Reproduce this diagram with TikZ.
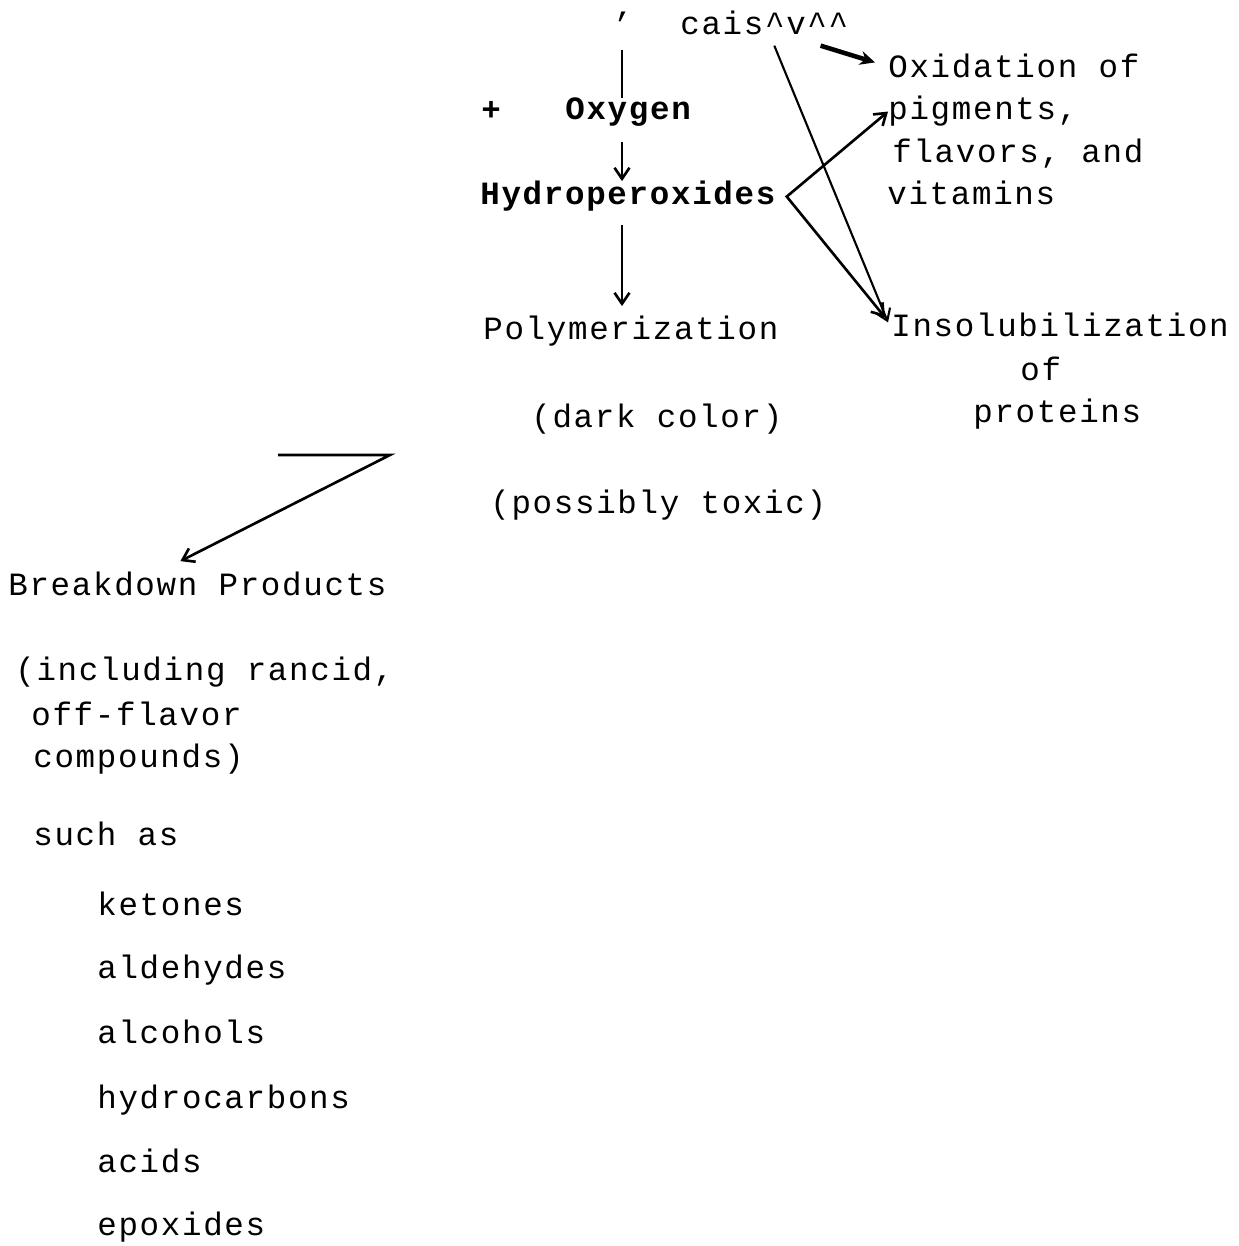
\documentclass[tikz,border=0pt]{standalone}
\usepackage{fontspec}
\usepackage{tikz}
\usetikzlibrary{arrows.meta}
\newfontfamily\typewriter[LetterSpace=5.2]{Liberation Mono}
\tikzset
{
    txtnode/.style   = {anchor=base west, inner sep=0pt, font=\typewriter\fontsize{18.5pt}{22pt}\selectfont},
    boldnode/.style  = {txtnode, font=\typewriter\bfseries\fontsize{18.5pt}{22pt}\selectfont},
    flow/.style      = {-{Straight Barb[length=0.22cm, width=0.3cm]}, line width=1.5pt},
    heavyflow/.style = {-{Stealth[length=0.3cm, width=0.28cm]}, line width=2.6pt}
}

\begin{document}
\begin{tikzpicture}[x=0.02cm, y=-0.02cm]
    \useasboundingbox (0,0) rectangle (1239,1246);
    \node [txtnode] (tick) at (612,36) {’};
    \node [txtnode] (cais) at (680,35) {cais\textasciicircum v\textasciicircum\textasciicircum};
    \node [boldnode] (plus) at (481,121) {+};
    \node [boldnode] (oxygen) at (565,120) {Oxygen};
    \node [boldnode] (hydro) at (480,205) {Hydroperoxides};
    \node [txtnode] (poly) at (483,340) {Polymerization};
    \node [txtnode] (dark) at (531,427) {(dark color)};
    \node [txtnode] (toxic) at (490,513) {(possibly toxic)};
    \node [txtnode] (oxid) at (888,78) {Oxidation of};
    \node [txtnode] (pigm) at (888,120) {pigments,};
    \node [txtnode] (flav) at (892,163) {flavors, and};
    \node [txtnode] (vita) at (887,205) {vitamins};
    \node [txtnode] (insol) at (891,337) {Insolubilization};
    \node [txtnode] (insolof) at (1020,380) {of};
    \node [txtnode] (prot) at (973,422) {proteins};
    \node [txtnode] (brk) at (8,595) {Breakdown Products};
    \node [txtnode] (incl) at (15,680) {(including rancid,};
    \node [txtnode] (offfl) at (31,725) {off-flavor};
    \node [txtnode] (comp) at (33,767) {compounds)};
    \node [txtnode] (such) at (33,845) {such as};
    \node [txtnode] (keto) at (97,915) {ketones};
    \node [txtnode] (alde) at (97,978) {aldehydes};
    \node [txtnode] (alco) at (97,1043) {alcohols};
    \node [txtnode] (hydc) at (97,1108) {hydrocarbons};
    \node [txtnode] (acid) at (97,1172) {acids};
    \node [txtnode] (epox) at (97,1235) {epoxides};

    \coordinate (axis) at (622,50);
    \coordinate (zstart) at (278,455);
    \coordinate (zbend) at (390,455);

    \draw [line width=1.5pt] (axis) -- (axis |- oxygen.north);
    \draw [flow, shorten <=0.3cm] (axis |- oxygen.south) -- (axis |- hydro.north);
    \draw [flow, shorten <=0.26cm, shorten >=0.2cm] (axis |- hydro.south) -- (axis |- poly.north);
    \draw [heavyflow] ([shift={(-28,10)}]cais.south east) -- ([shift={(-13,-4)}]oxid.west);
    \draw [flow, line width=1.2pt] ([shift={(10,10)}]cais.south) -- ([shift={(-3,-3)}]insol.west);
    \draw [flow, {Straight Barb[length=0.22cm, width=0.3cm]}-{Straight Barb[length=0.22cm, width=0.3cm]}] (pigm.west) -- ([shift={(11,0)}]hydro.east) -- ([shift={(-6,-8)}]insol.west);
    \draw [flow] (zstart) -- (zbend) -- ([shift={(-17,-10)}]brk.north);
\end{tikzpicture}
\end{document}
